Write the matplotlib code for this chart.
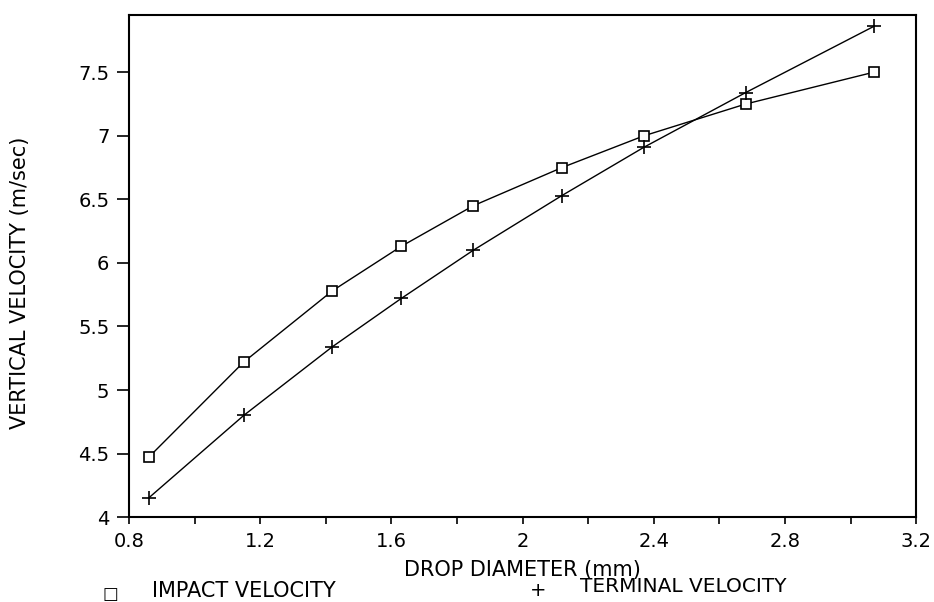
import matplotlib
matplotlib.use("Agg")
import matplotlib.pyplot as plt
from matplotlib.ticker import MultipleLocator

diameter = [0.86, 1.15, 1.42, 1.63, 1.85, 2.12, 2.37, 2.68, 3.07]
impact_velocity = [4.47, 5.22, 5.78, 6.13, 6.45, 6.75, 7.0, 7.25, 7.5]
terminal_velocity = [4.15, 4.80, 5.34, 5.72, 6.10, 6.53, 6.91, 7.34, 7.86]

x_ticks = [0.8, 1.2, 1.6, 2.0, 2.4, 2.8, 3.2]
x_tick_labels = ["0.8", "1.2", "1.6", "2", "2.4", "2.8", "3.2"]
y_ticks = [4, 4.5, 5, 5.5, 6, 6.5, 7, 7.5]
y_tick_labels = ["4", "4.5", "5", "5.5", "6", "6.5", "7", "7.5"]

plt.rcParams["font.family"] = ["DejaVu Sans"]

fig = plt.figure(figsize=(9.34, 6.02), dpi=100)
ax = fig.add_axes([0.138, 0.141, 0.843, 0.834])

ax.plot(diameter, impact_velocity, "k-", linewidth=1.0, marker="s",
        markersize=7, markerfacecolor="white", markeredgecolor="black",
        markeredgewidth=1.2)
ax.plot(diameter, terminal_velocity, "k-", linewidth=1.0, marker="+",
        markersize=10, markeredgewidth=1.2)

ax.set_xlim(0.8, 3.2)
ax.set_ylim(4, 7.95)
ax.set_xticks(x_ticks)
ax.set_xticklabels(x_tick_labels)
ax.xaxis.set_minor_locator(MultipleLocator(0.2))
ax.set_yticks(y_ticks)
ax.set_yticklabels(y_tick_labels)

ax.tick_params(axis="both", which="major", direction="out", width=1.2,
               labelsize=14)
ax.tick_params(axis="x", which="both", length=5, width=1.2, pad=6)
ax.tick_params(axis="y", which="major", length=9, pad=5)
for s in ax.spines.values():
    s.set_linewidth(1.5)

ax.set_xlabel("DROP DIAMETER (mm)", fontsize=15, va="top")
ax.xaxis.set_label_coords(0.5, -0.085)
ax.set_ylabel("VERTICAL VELOCITY (m/sec)", fontsize=15)
ax.yaxis.set_label_coords(-0.125, 0.466)

# legend row under the x label
fig.text(110 / 934, 1 - 594 / 602, "\u25a1", fontsize=12, va="center", ha="center")
fig.text(152 / 934, 1 - 591 / 602, "IMPACT VELOCITY", fontsize=15,
         va="center", ha="left")
fig.text(538 / 934, 1 - 590 / 602, "+", fontsize=14, va="center", ha="center")
fig.text(580 / 934, 1 - 587 / 602, "TERMINAL VELOCITY", fontsize=14.5,
         va="center", ha="left")

fig.savefig("out.png", dpi=100)
